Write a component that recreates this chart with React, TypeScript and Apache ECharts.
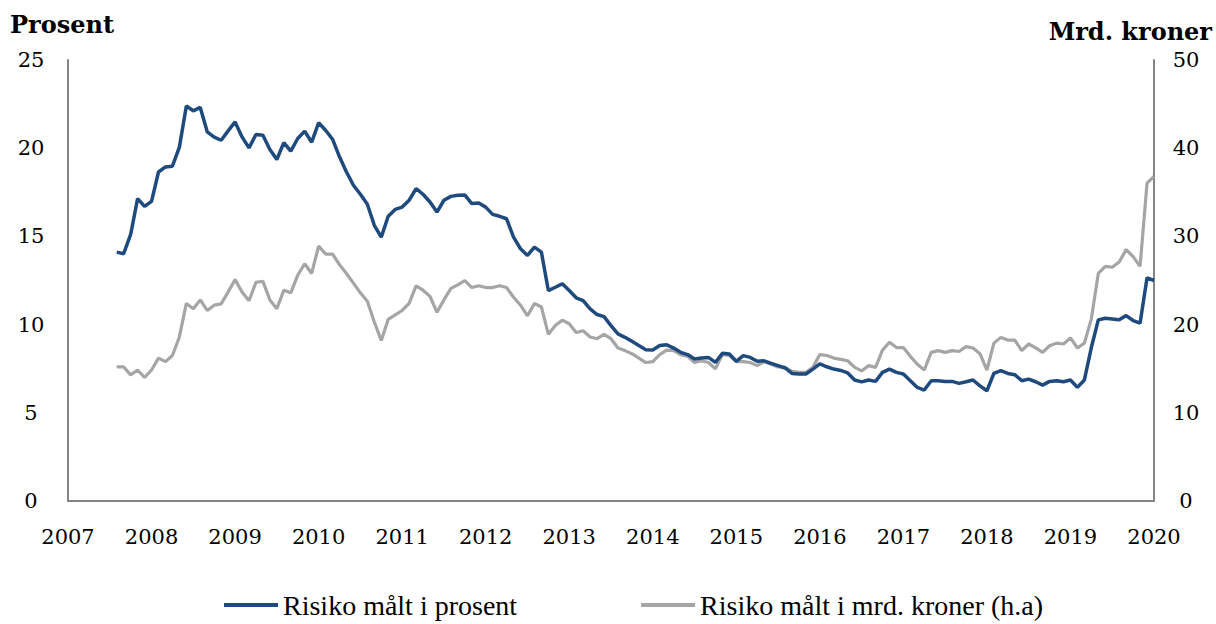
import React, { useEffect, useRef } from "react";
import * as echarts from "echarts";

// Monthly observations, starting August 2007
const START_YEAR = 2007;
const START_MONTH = 8;

// Risiko målt i prosent (left axis)
const risikoProsent = [
  14.11, 14.02, 15.11, 17.14, 16.7, 16.99, 18.65, 18.94, 18.98, 20.06,
  22.39, 22.12, 22.31, 20.93, 20.63, 20.45, 20.98, 21.49, 20.64, 20.02,
  20.78, 20.74, 19.93, 19.36, 20.32, 19.83, 20.55, 20.97, 20.34, 21.44,
  21.02, 20.51, 19.51, 18.65, 17.9, 17.39, 16.82, 15.63, 14.96, 16.14,
  16.53, 16.66, 17.05, 17.71, 17.39, 16.95, 16.38, 17.05, 17.27, 17.33,
  17.35, 16.86, 16.89, 16.66, 16.25, 16.14, 16.0, 14.96, 14.3, 13.92,
  14.39, 14.11, 11.93, 12.12, 12.31, 11.93, 11.52, 11.36, 10.89, 10.57,
  10.45, 9.94, 9.47, 9.28, 9.05, 8.81, 8.58, 8.56, 8.81, 8.86,
  8.67, 8.43, 8.3, 8.05, 8.11, 8.14, 7.86, 8.37, 8.33, 7.92,
  8.24, 8.14, 7.92, 7.95, 7.8, 7.67, 7.54, 7.23, 7.2, 7.2,
  7.48, 7.77, 7.61, 7.48, 7.4, 7.26, 6.86, 6.75, 6.86, 6.78,
  7.29, 7.48, 7.29, 7.2, 6.82, 6.44, 6.29, 6.82, 6.82, 6.78,
  6.78, 6.67, 6.76, 6.86, 6.53, 6.25, 7.23, 7.39, 7.23, 7.16,
  6.82, 6.91, 6.76, 6.57, 6.78, 6.82, 6.76, 6.86, 6.44, 6.86,
  8.7, 10.27, 10.36, 10.32, 10.27, 10.51, 10.23, 10.08, 12.65, 12.5,
];

// Risiko målt i mrd. kroner (right axis)
const risikoMrd = [
  15.2, 15.2, 14.3, 14.85, 14.0, 14.85, 16.2, 15.8, 16.5, 18.6,
  22.4, 21.8, 22.8, 21.6, 22.2, 22.35, 23.7, 25.1, 23.7, 22.7,
  24.8, 24.9, 22.8, 21.8, 23.9, 23.6, 25.6, 26.9, 25.8, 28.9,
  28.0, 28.0, 26.8, 25.8, 24.7, 23.6, 22.65, 20.3, 18.2, 20.6,
  21.1, 21.6, 22.4, 24.4, 23.9, 23.2, 21.4, 22.8, 24.1, 24.5,
  25.0, 24.2, 24.4, 24.2, 24.2, 24.4, 24.2, 23.1, 22.2, 21.0,
  22.4, 22.0, 18.9, 19.9, 20.5, 20.1, 19.1, 19.3, 18.6, 18.4,
  18.9, 18.4, 17.35, 17.05, 16.7, 16.2, 15.7, 15.8, 16.6, 17.1,
  17.05, 16.6, 16.4, 15.7, 15.9, 15.7, 15.0, 16.6, 16.5, 15.8,
  15.8, 15.7, 15.35, 15.8, 15.5, 15.2, 15.15, 14.7, 14.6, 14.6,
  15.15, 16.6, 16.5, 16.2, 16.05, 15.9, 15.15, 14.75, 15.35, 15.15,
  17.1, 18.0, 17.4, 17.4, 16.4, 15.5, 14.85, 16.85, 17.05, 16.85,
  17.05, 16.95, 17.5, 17.35, 16.7, 14.85, 17.9, 18.55, 18.25, 18.25,
  17.05, 17.8, 17.35, 16.85, 17.6, 17.9, 17.8, 18.5, 17.35, 17.9,
  20.65, 25.8, 26.6, 26.5, 27.1, 28.5, 27.7, 26.6, 36.05, 36.8,
];

const seriesNames = ["Risiko målt i prosent", "Risiko målt i mrd. kroner (h.a)"];
const leftTitle = "Prosent";
const rightTitle = "Mrd. kroner";

// Month labels (YYYY-MM) for each observation
const months = risikoProsent.map((_, i) => {
  const m0 = START_MONTH - 1 + i;
  const y = START_YEAR + Math.floor(m0 / 12);
  const m = (m0 % 12) + 1;
  return `${y}-${String(m).padStart(2, "0")}`;
});

const monthToX = (s: string) => {
  const [y, m] = s.split("-").map(Number);
  return y + (m - 1) / 12;
};

const SERIF = "DejaVu Serif";

export default function App() {
  const ref = useRef<HTMLDivElement>(null);

  useEffect(() => {
    if (!ref.current) return;
    const chart = echarts.init(ref.current, undefined, { renderer: "svg" });
    const axisLineStyle = { color: "#858585", width: 2 };
    chart.setOption({
      animation: false,
      backgroundColor: "#ffffff",
      grid: { left: 68, right: 62, top: 60, bottom: 123, containLabel: false },
      xAxis: {
        type: "value",
        min: 2007,
        max: 2020,
        interval: 1,
        axisLine: { show: true, lineStyle: axisLineStyle },
        axisTick: { show: false },
        splitLine: { show: false },
        axisLabel: {
          formatter: (v: number) => String(v),
          fontFamily: SERIF,
          fontSize: 21,
          color: "#000",
          margin: 25,
        },
      },
      yAxis: [
        {
          type: "value",
          min: 0,
          max: 25,
          interval: 5,
          position: "left",
          axisLine: { show: true, lineStyle: axisLineStyle },
          axisTick: { show: false },
          splitLine: { show: false },
          axisLabel: {
            fontFamily: SERIF,
            fontSize: 21,
            color: "#000",
            align: "center",
            margin: 37,
          },
        },
        {
          type: "value",
          min: 0,
          max: 50,
          interval: 10,
          position: "right",
          axisLine: { show: true, lineStyle: axisLineStyle },
          axisTick: { show: false },
          splitLine: { show: false },
          axisLabel: {
            fontFamily: SERIF,
            fontSize: 21,
            color: "#000",
            align: "center",
            margin: 32,
          },
        },
      ],
      legend: {
        left: 224,
        top: 590,
        itemWidth: 54,
        itemHeight: 4,
        itemGap: 124,
        icon: "rect",
        padding: 0,
        textStyle: { fontFamily: "Liberation Serif", fontSize: 28, lineHeight: 30, color: "#000" },
        data: seriesNames,
      },
      graphic: [
        {
          type: "text",
          left: 10,
          top: 12,
          style: { text: leftTitle, font: `bold 24px '${SERIF}'`, fill: "#000" },
        },
        {
          type: "text",
          right: 4,
          top: 19,
          style: { text: rightTitle, font: `bold 24px '${SERIF}'`, fill: "#000" },
        },
      ],
      series: [
        {
          name: seriesNames[1],
          type: "line",
          yAxisIndex: 1,
          showSymbol: false,
          data: months.map((m, i) => [monthToX(m), risikoMrd[i]]),
          lineStyle: { color: "#A5A5A5", width: 3.2 },
          itemStyle: { color: "#A5A5A5" },
          z: 2,
        },
        {
          name: seriesNames[0],
          type: "line",
          yAxisIndex: 0,
          showSymbol: false,
          data: months.map((m, i) => [monthToX(m), risikoProsent[i]]),
          lineStyle: { color: "#1F4A7E", width: 3.5 },
          itemStyle: { color: "#1F4A7E" },
          z: 3,
        },
      ],
    });
    return () => chart.dispose();
  }, []);

  return (
    <div
      ref={ref}
      style={{ position: "fixed", left: 0, top: 0, width: 1216, height: 624, background: "#fff" }}
    />
  );
}
